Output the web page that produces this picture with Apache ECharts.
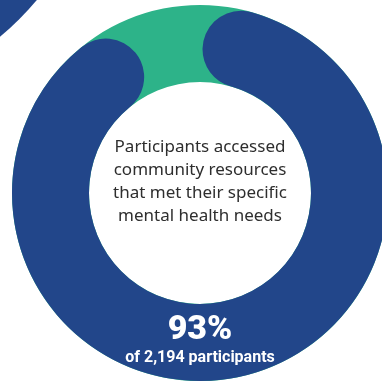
<!DOCTYPE html>
<html>
<head>
<meta charset="utf-8">
<script src="https://cdn.jsdelivr.net/npm/echarts@6/dist/echarts.min.js"></script>
<style>
  html, body { margin: 0; padding: 0; background: #ffffff; }
  #chart { width: 382px; height: 385px; }
</style>
</head>
<body>
<div id="chart"></div>
<script>
// Share of participants who accessed resources that met their needs
const categories = ['Met needs', 'Other'];
const shareValues = [93, 7];
const totalParticipants = '2,194';
const headline = 'Participants accessed\ncommunity resources\nthat met their specific\nmental health needs';

const NAVY = '#22468A';
const GREEN = '#2DB389';

const chart = echarts.init(document.getElementById('chart'), null, { renderer: 'canvas' });

const center = [200, 193];
const radius = [111, 188];

chart.setOption({
  animation: false,
  backgroundColor: '#ffffff',
  graphic: [
    // part of a neighbouring ring peeking in at the corner
    {
      type: 'circle',
      shape: { cx: -200, cy: -200, r: 310 },
      style: { fill: NAVY },
      silent: true,
      z: 0
    },
    {
      type: 'text',
      x: 200,
      y: 136,
      style: {
        text: headline,
        fill: '#2e2e2e',
        font: '400 17px "Noto Sans", sans-serif',
        lineHeight: 23,
        align: 'center',
        verticalAlign: 'top'
      },
      z: 10
    },
    {
      type: 'text',
      x: 200,
      y: 330,
      style: {
        text: shareValues[0] + '%',
        fill: '#ffffff',
        font: '900 34px Roboto, sans-serif',
        align: 'center',
        verticalAlign: 'middle'
      },
      z: 10
    },
    {
      type: 'text',
      x: 200,
      y: 358,
      style: {
        text: 'of ' + totalParticipants + ' participants',
        fill: '#ffffff',
        font: '700 16px Roboto, sans-serif',
        align: 'center',
        verticalAlign: 'middle'
      },
      z: 10
    }
  ],
  series: [
    {
      // full track under the arc
      type: 'pie',
      center: center,
      radius: radius,
      silent: true,
      label: { show: false },
      labelLine: { show: false },
      itemStyle: { color: GREEN },
      data: [{ name: categories[1], value: 100 }],
      z: 1
    },
    {
      type: 'pie',
      center: center,
      radius: radius,
      startAngle: 89,
      clockwise: true,
      silent: true,
      avoidLabelOverlap: false,
      label: { show: false },
      labelLine: { show: false },
      data: [
        { name: categories[0], value: shareValues[0], itemStyle: { color: NAVY, borderRadius: 40 } },
        { name: categories[1], value: shareValues[1], itemStyle: { color: 'rgba(0,0,0,0)' } }
      ],
      z: 2
    }
  ]
});
</script>
</body>
</html>
